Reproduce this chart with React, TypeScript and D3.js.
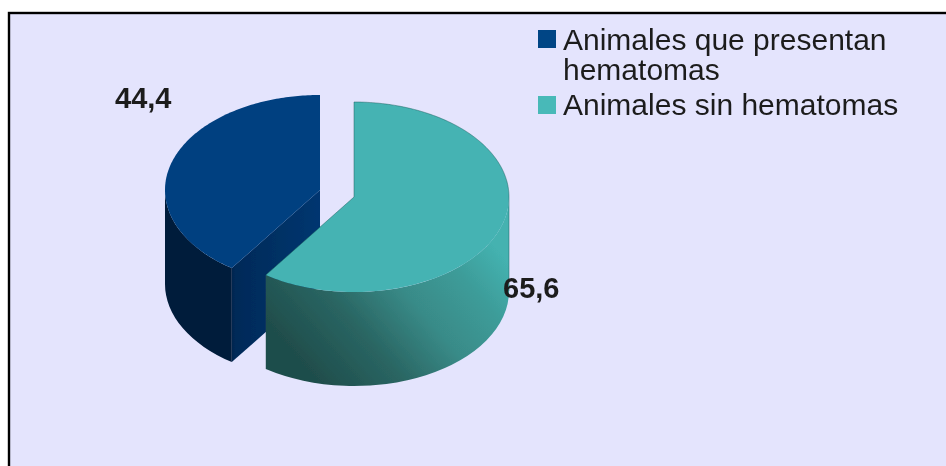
import React from "react";
import * as d3 from "d3";

const legendLines = [["Animales que presentan", "hematomas"], ["Animales sin hematomas"]];
const values = [44.4, 65.6];
const valueLabels = ["44,4", "65,6"];
const topColors = ["#004080", "#45b3b3"];
const swatchColors = ["#004585", "#48b9b8"];

const W = 946, H = 466;
const RX = 155, RY = 95, DEPTH = 94;
// the pie runs clockwise from 12 o'clock: teal slice first, then the blue one
const order = [1, 0];
const pie = d3.pie<number>().sort(null).value((i) => values[i]);
const arcs = pie(order);
const slice = (i: number) => arcs.find((a) => a.data === i)!;
const px = (cx: number, a: number) => cx + RX * Math.sin(a);
const py = (cy: number, a: number) => cy - RY * Math.cos(a);

const BLUE = { cx: 320, cy: 190 };
const TEAL = { cx: 354, cy: 197 };
type C = { cx: number; cy: number };

function outerWall(c: C, a0: number, a1: number) {
  const x0 = px(c.cx, a0), y0 = py(c.cy, a0), x1 = px(c.cx, a1), y1 = py(c.cy, a1);
  return `M${x0},${y0}A${RX},${RY} 0 0 1 ${x1},${y1}L${x1},${y1 + DEPTH}A${RX},${RY} 0 0 0 ${x0},${y0 + DEPTH}Z`;
}
function cutWall(c: C, a: number) {
  const x = px(c.cx, a), y = py(c.cy, a);
  return `M${c.cx},${c.cy}L${x},${y}L${x},${y + DEPTH}L${c.cx},${c.cy + DEPTH}Z`;
}
function rim(c: C, a0: number, a1: number) {
  const n = 160;
  return d3.range(n + 1).map((k) => {
    const a = a0 + ((a1 - a0) * k) / n;
    return [px(c.cx, a), py(c.cy, a)] as [number, number];
  });
}
function face(c: C, d: d3.PieArcDatum<number>) {
  return d3.line()([[c.cx, c.cy], ...rim(c, d.startAngle, d.endAngle)])! + "Z";
}

export default function App() {
  const b = slice(0), t = slice(1);
  const FONT = "'Liberation Sans', Arial, sans-serif";
  const right = Math.PI / 2;
  const tealEdge = d3.line()([
    [px(TEAL.cx, t.endAngle), py(TEAL.cy, t.endAngle)],
    [TEAL.cx, TEAL.cy],
    ...rim(TEAL, t.startAngle, right),
    [px(TEAL.cx, right), py(TEAL.cy, right) + DEPTH],
  ])!;
  return (
    <svg width={W} height={H} style={{ position: "fixed", left: 0, top: 0 }} fontFamily={FONT}>
      <defs>
        <linearGradient id="tealWall" gradientUnits="userSpaceOnUse" x1={320} y1={385} x2={490} y2={240}>
          <stop offset="0" stopColor="#1f4d4b" />
          <stop offset="0.3" stopColor="#2a6663" />
          <stop offset="0.56" stopColor="#398b88" />
          <stop offset="0.8" stopColor="#3d9c99" />
          <stop offset="1" stopColor="#44b2b0" />
        </linearGradient>
        <linearGradient id="blueCut" gradientUnits="userSpaceOnUse" x1={226} y1={0} x2={320} y2={0}>
          <stop offset="0" stopColor="#001c3a" />
          <stop offset="0.1" stopColor="#002a58" />
          <stop offset="1" stopColor="#003670" />
        </linearGradient>
        <filter id="soft" x="-5%" y="-5%" width="110%" height="110%">
          <feGaussianBlur stdDeviation="0.45" />
        </filter>
      </defs>
      <rect x={9} y={13} width={W} height={H} fill="#e4e4fd" stroke="#000" strokeWidth={2.4} />
      <g filter="url(#soft)">
        <path d={cutWall(BLUE, b.startAngle)} fill="url(#blueCut)" />
        <path d={outerWall(BLUE, b.startAngle, (3 * Math.PI) / 2)} fill="#001c3a" />
        <path d={face(BLUE, b)} fill={topColors[0]} />
        <path d={outerWall(TEAL, right, t.endAngle)} fill="url(#tealWall)" />
        <path d={face(TEAL, t)} fill={topColors[1]} />
        <path d={tealEdge} fill="none" stroke="#1f5f5d" strokeWidth={0.9} opacity={0.55} />
      </g>
      <g filter="url(#soft)" fill="#1e1e1e">
        <text x={115} y={108} fontSize={29} fontWeight="bold">{valueLabels[0]}</text>
        <text x={503} y={298} fontSize={29} fontWeight="bold">{valueLabels[1]}</text>
        <g fontSize={30}>
          <text x={563} y={50}>{legendLines[0][0]}</text>
          <text x={563} y={80}>{legendLines[0][1]}</text>
          <text x={563} y={115}>{legendLines[1][0]}</text>
        </g>
      </g>
      <rect x={538} y={30} width={18} height={18} fill={swatchColors[0]} />
      <rect x={538} y={96} width={18} height={18} fill={swatchColors[1]} />
    </svg>
  );
}
